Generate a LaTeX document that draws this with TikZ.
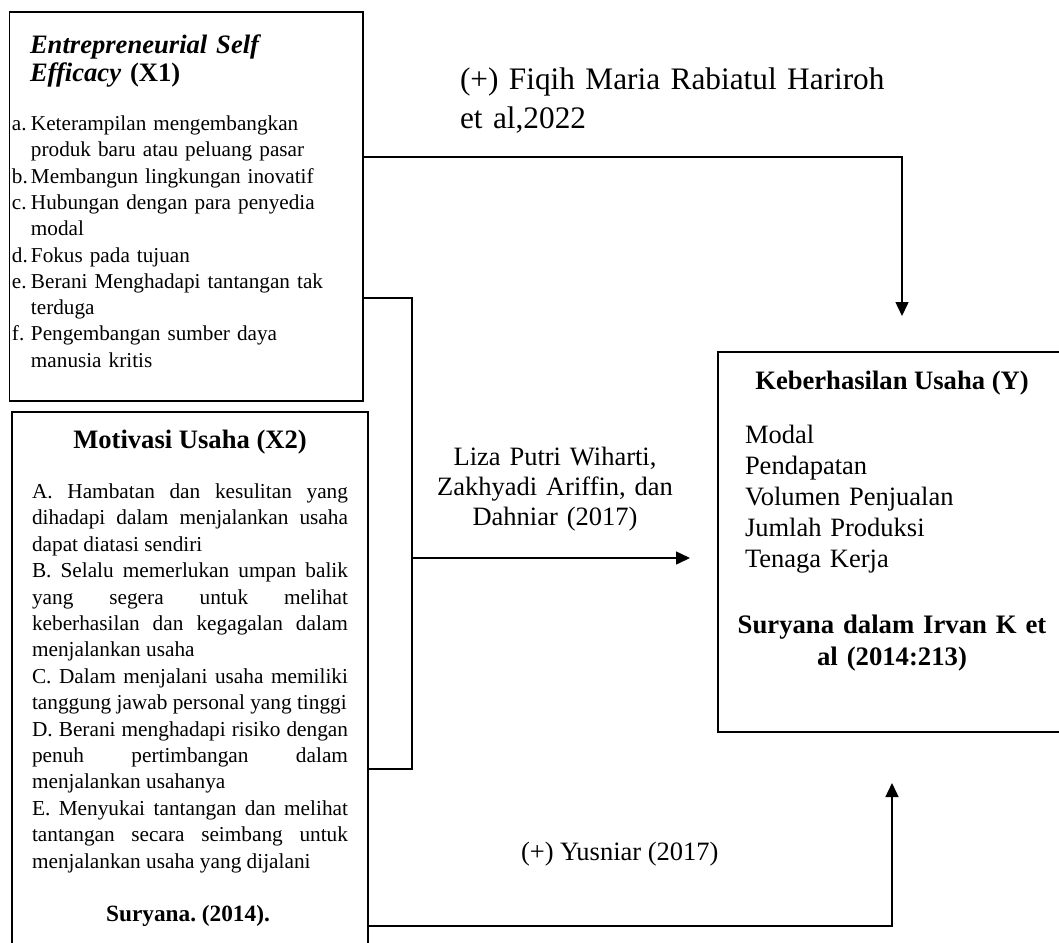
\documentclass[tikz,border=0pt]{standalone}
\usepackage{fontspec}
\setmainfont{Liberation Serif}
\usetikzlibrary{arrows.meta}
\tikzset{
  box/.style={draw, line width=1.5pt, inner sep=0pt, outer sep=0pt, anchor=north west},
  conn/.style={line width=1.5pt},
  arr/.style={line width=1.5pt, -{Triangle[length=14pt,width=13pt]}},
  txt/.style={inner sep=0pt, outer sep=0pt},
}
\newcommand\fsz[2]{\fontsize{#1}{#2}\selectfont}
\frenchspacing
\begin{document}
\begin{tikzpicture}[x=1pt,y=-1pt]
\useasboundingbox (0,0) rectangle (1059,942);
% boxes
\node[box, minimum width=353.5pt, minimum height=389pt] (x1) at (9.5,12) {};
\node[box, minimum width=356pt, minimum height=560pt] (x2) at (12,412) {};
\node[box, minimum width=348pt, minimum height=380pt] (y) at (718,352) {};
% X1 texts
\node[txt, anchor=base west, text width=340pt, align=left, font=\fsz{26.6}{28}\bfseries\itshape] (x1t) at (30,53.5) {Entrepreneurial Self\\Efficacy \textup{(X1)}};
\node[txt, anchor=base west, text width=345pt, align=left, font=\fsz{21.2}{26.3}] (x1l) at (12,130.5) {%
\makebox[19pt][l]{a.}Keterampilan mengembangkan\\
\hspace*{19pt}produk baru atau peluang pasar\\
\makebox[19pt][l]{b.}Membangun lingkungan inovatif\\
\makebox[19pt][l]{c.}Hubungan dengan para penyedia\\
\hspace*{19pt}modal\\
\makebox[19pt][l]{d.}Fokus pada tujuan\\
\makebox[19pt][l]{e.}Berani Menghadapi tantangan tak\\
\hspace*{19pt}terduga\\
\makebox[19pt][l]{f.}Pengembangan sumber daya\\
\hspace*{19pt}manusia kritis};
% X2 texts
\node[txt, anchor=base, font=\fsz{26.6}{28}\bfseries] (x2t) at (190,448) {Motivasi Usaha (X2)};
\node[txt, anchor=base west, text width=316pt, align=justify, font=\fsz{21.3}{26.4}] (x2b) at (32,498.5) {\tolerance=10000\hyphenpenalty=10000\relax
A. Hambatan dan kesulitan yang\linebreak dihadapi dalam menjalankan usaha\linebreak dapat diatasi sendiri\par
B. Selalu memerlukan umpan balik\linebreak yang segera untuk melihat\linebreak keberhasilan dan kegagalan dalam\linebreak menjalankan usaha\par
C. Dalam menjalani usaha memiliki\linebreak tanggung jawab personal yang tinggi\par
D. Berani menghadapi risiko dengan\linebreak penuh pertimbangan dalam\linebreak menjalankan usahanya\par
E. Menyukai tantangan dan melihat\linebreak tantangan secara seimbang untuk\linebreak menjalankan usaha yang dijalani};
\node[txt, anchor=base, font=\fsz{23.3}{26}\bfseries] (x2c) at (188,921) {Suryana. (2014).};
% Y texts
\node[txt, anchor=base, font=\fsz{26.6}{28}\bfseries] (yt) at (892,389) {Keberhasilan Usaha (Y)};
\node[txt, anchor=base west, text width=300pt, align=left, font=\fsz{26.5}{31}] (yl) at (745,443) {Modal\\Pendapatan\\Volumen Penjualan\\Jumlah Produksi\\Tenaga Kerja};
\node[txt, anchor=base, text width=330pt, align=center, font=\fsz{26.7}{31.5}\bfseries] (yc) at (892,633.5) {Suryana dalam Irvan K et\\al (2014:213)};
% labels
\node[txt, anchor=base west, text width=450pt, align=left, font=\fsz{31.3}{39}] (l1) at (460,89) {(+) Fiqih Maria Rabiatul Hariroh\\et al,2022};
\node[txt, anchor=base, text width=280pt, align=center, font=\fsz{26.5}{30}] (l2) at (555,465) {Liza Putri Wiharti,\\Zakhyadi Ariffin, dan\\Dahniar (2017)};
\node[txt, anchor=base west, font=\fsz{26.5}{30}] (l3) at (521,860) {(+) Yusniar (2017)};
% connectors
\coordinate (t1) at (902,316);
\coordinate (j1) at (412,298);
\coordinate (t2) at (690,558);
\coordinate (t3) at (892,783);
\draw[arr] (x1.east |- 0,157) -| (t1);
\draw[conn] (x1.east |- j1) -- (j1) -- (j1 |- 0,769) -- (x2.east |- 0,769);
\draw[arr] (j1 |- t2) -- (t2);
\draw[arr] (x2.east |- 0,926) -| (t3);
\end{tikzpicture}
\end{document}
